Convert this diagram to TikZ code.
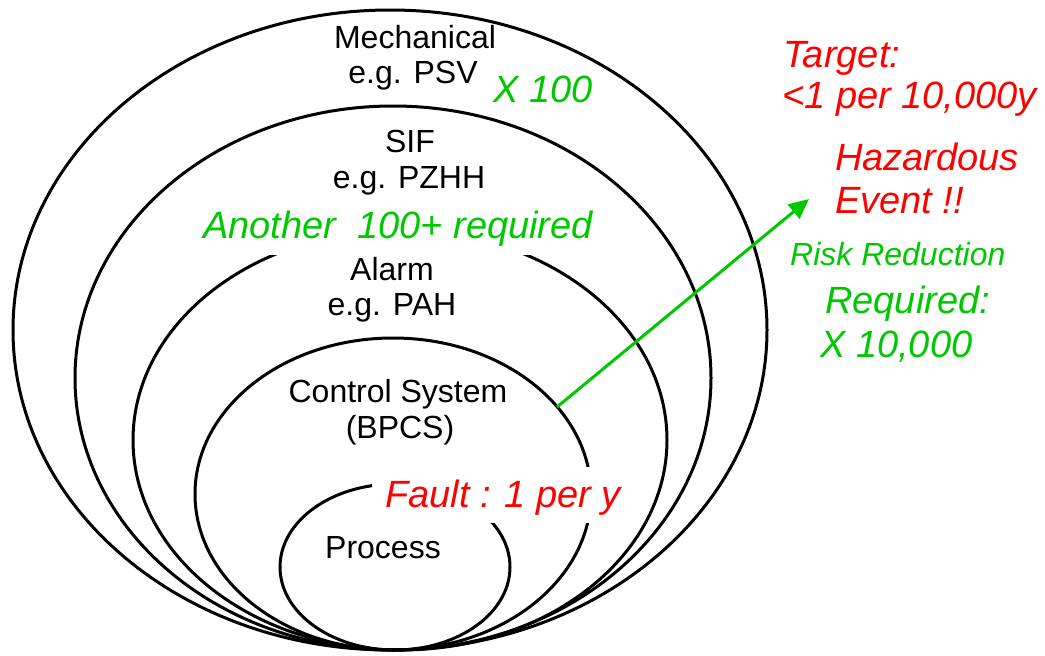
\documentclass[tikz,border=0pt]{standalone}
\usepackage{fontspec}
\setmainfont{Liberation Sans}
\usetikzlibrary{arrows.meta}
\definecolor{hzred}{RGB}{255,0,0}
\definecolor{hzgreen}{RGB}{0,200,0}
\begin{document}
\begin{tikzpicture}[x=1pt,y=-1pt,
  ring/.style={draw=black,line width=3pt},
  mask/.style={fill=white,draw=none},
  lbl/.style={font=\fontsize{32}{36}\selectfont,text=black,inner sep=0pt,anchor=base},
  bigred/.style={font=\fontsize{38}{42}\selectfont\itshape,text=hzred,inner sep=0pt},
  biggreen/.style={font=\fontsize{38}{42}\selectfont\itshape,text=hzgreen,inner sep=0pt},
  smallgreen/.style={font=\fontsize{32}{36}\selectfont\itshape,text=hzgreen,inner sep=0pt},
  riskarrow/.style={draw=hzgreen,line width=3pt,-{Triangle[length=20pt,width=18pt]}}
]
\useasboundingbox (0,0) rectangle (1045,656);
% nested layers, all touching at the bottom
\draw[ring] (390,330) ellipse [x radius=377pt, y radius=320pt];
\draw[ring] (393,378) ellipse [x radius=318pt, y radius=272pt];
\draw[ring] (400,440) ellipse [x radius=267pt, y radius=210pt];
\draw[ring] (393,494) ellipse [x radius=198pt, y radius=156pt];
\draw[ring] (395,567) ellipse [x radius=115pt, y radius=83pt];
% white text boxes hiding parts of the rings
\fill[mask] (188,200) rectangle (598,255);
\fill[mask] (372,467) rectangle (625,523);
% layer labels
\node[lbl] (mech1) at (415,48) {Mechanical};
\node[lbl] (mech2) at (413,83) {e.g. PSV};
\node[lbl] (sif1) at (410,152) {SIF};
\node[lbl] (sif2) at (409,188) {e.g. PZHH};
\node[lbl] (alarm1) at (392,280) {Alarm};
\node[lbl] (alarm2) at (392,315) {e.g. PAH};
\node[lbl] (bpcs1) at (398,402) {Control System};
\node[lbl] (bpcs2) at (400,438) {(BPCS)};
\node[lbl] (process) at (383,558) {Process};
% factors
\node[biggreen,anchor=base] (x100) at (543,102) {X 100};
\node[biggreen,anchor=base] (another) at (398,238) {Another\ \ 100+ required};
\node[bigred,anchor=base west] (fault) at (385,507) {Fault : 1 per y};
% right hand side
\node[bigred,anchor=base west] (target1) at (783,67) {Target:};
\node[bigred,anchor=base west] (target2) at (782,108) {<1 per 10,000y};
\node[bigred,anchor=base west] (haz1) at (835,170) {Hazardous};
\node[bigred,anchor=base west] (haz2) at (835,213) {Event !!};
\node[smallgreen,anchor=base west] (rr1) at (790,265) {Risk Reduction};
\node[biggreen,anchor=base west] (rr2) at (825,313) {Required:};
\node[biggreen,anchor=base west] (rr3) at (820,357) {X 10,000};
% arrow
\coordinate (rrstart) at (557,407);
\coordinate (rrtip) at (809,199);
\draw[riskarrow] (rrstart) -- (rrtip);
\end{tikzpicture}
\end{document}
